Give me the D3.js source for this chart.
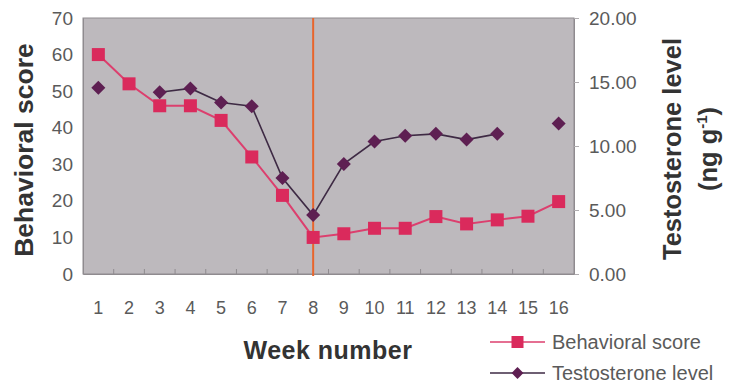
<!DOCTYPE html>
<html>
<head>
<meta charset="utf-8">
<script src="https://cdn.jsdelivr.net/npm/d3@7"></script>
<style>
  html, body { margin: 0; padding: 0; background: #fff; }
  svg { display: block; font-family: "Liberation Sans", Arial, sans-serif; }
</style>
</head>
<body>
<svg id="chart" width="729" height="392"></svg>
<script>
// Weekly observations
const weeks = [1, 2, 3, 4, 5, 6, 7, 8, 9, 10, 11, 12, 13, 14, 15, 16];
const behavioralScore = [60, 52, 46, 46, 42, 32, 21.5, 10, 11, 12.5, 12.5, 15.7, 13.7, 14.8, 15.8, 19.8];
const testosteroneLevel = [14.55, null, 14.2, 14.5, 13.4, 13.1, 7.5, 4.6, 8.6, 10.35, 10.8, 10.95, 10.5, 10.95, null, 11.75];
const leftTicks = [0, 10, 20, 30, 40, 50, 60, 70];
const rightTicks = [0, 5, 10, 15, 20];
const markerWeek = 8;

const svg = d3.select("#chart");
const plot = { left: 83, right: 574, top: 18, bottom: 274 };

const x = d3.scaleBand().domain(weeks).range([plot.left, plot.right]).padding(0);
const yL = d3.scaleLinear().domain([0, 70]).range([plot.bottom, plot.top]);
const yR = d3.scaleLinear().domain([0, 20]).range([plot.bottom, plot.top]);
const cx = w => x(w) + x.bandwidth() / 2;

// Plot background
svg.append("rect")
  .attr("x", plot.left).attr("y", plot.top)
  .attr("width", plot.right - plot.left).attr("height", plot.bottom - plot.top)
  .attr("fill", "#bdb9bd").attr("stroke", "#8f8b8f").attr("stroke-width", 1);

// Left axis
const axL = svg.append("g").attr("transform", `translate(${plot.left},0)`)
  .call(d3.axisLeft(yL).tickValues(leftTicks).tickSize(0).tickPadding(10));
axL.select(".domain").attr("stroke", "#8f8b8f");
axL.selectAll("text").attr("font-size", 19).attr("fill", "#5a5a5a");

// Right axis
const axR = svg.append("g").attr("transform", `translate(${plot.right},0)`)
  .call(d3.axisRight(yR).tickValues(rightTicks).tickSize(5).tickPadding(10).tickFormat(d3.format(".2f")));
axR.select(".domain").attr("stroke", "#8f8b8f");
axR.selectAll("line").attr("stroke", "#b0adb0");
axR.selectAll("text").attr("font-size", 19).attr("fill", "#5a5a5a");

// Bottom axis: labels under each week, ticks on week boundaries
const axB = svg.append("g").attr("transform", `translate(0,${plot.bottom})`)
  .call(d3.axisBottom(x).tickSize(0).tickPadding(27));
axB.select(".domain").attr("stroke", "#8f8b8f");
axB.selectAll("text").attr("font-size", 18).attr("fill", "#5a5a5a");
svg.append("g").selectAll("line")
  .data(weeks.slice(1))
  .join("line")
  .attr("x1", d => x(d)).attr("x2", d => x(d))
  .attr("y1", plot.bottom - 5).attr("y2", plot.bottom)
  .attr("stroke", "#8f8b8f");

// Vertical reference line at week 8
svg.append("line")
  .attr("x1", cx(markerWeek)).attr("x2", cx(markerWeek))
  .attr("y1", plot.top).attr("y2", plot.bottom + 2)
  .attr("stroke", "#e8652c").attr("stroke-width", 2);

// Testosterone series (right axis)
const tData = weeks.map((w, i) => ({ w, v: testosteroneLevel[i] }));
svg.append("path")
  .datum(tData)
  .attr("fill", "none").attr("stroke", "#3e2a44").attr("stroke-width", 1.6)
  .attr("d", d3.line().defined(d => d.v != null).x(d => cx(d.w)).y(d => yR(d.v)));
const diamond = d3.symbol().type(d3.symbolDiamond2).size(125);
svg.append("g").selectAll("path")
  .data(tData.filter(d => d.v != null))
  .join("path")
  .attr("transform", d => `translate(${cx(d.w)},${yR(d.v)})`)
  .attr("d", diamond)
  .attr("fill", "#5e1f52");

// Behavioral score series (left axis)
const bData = weeks.map((w, i) => ({ w, v: behavioralScore[i] }));
svg.append("path")
  .datum(bData)
  .attr("fill", "none").attr("stroke", "#dc3f6e").attr("stroke-width", 2)
  .attr("d", d3.line().x(d => cx(d.w)).y(d => yL(d.v)));
svg.append("g").selectAll("rect")
  .data(bData)
  .join("rect")
  .attr("x", d => cx(d.w) - 6.5).attr("y", d => yL(d.v) - 6.5)
  .attr("width", 13).attr("height", 13)
  .attr("fill", "#da2a5c");

// Axis titles
svg.append("text")
  .attr("transform", `translate(33,150) rotate(-90)`)
  .attr("text-anchor", "middle")
  .attr("font-size", 26.5).attr("font-weight", "bold").attr("fill", "#333")
  .text("Behavioral score");

const rt = svg.append("text")
  .attr("transform", `translate(681,149) rotate(-90)`)
  .attr("text-anchor", "middle")
  .attr("font-size", 25.5).attr("font-weight", "bold").attr("fill", "#333");
rt.append("tspan").attr("x", 0).attr("dy", 0).text("Testosterone level");
const rt2 = rt.append("tspan").attr("x", 0).attr("dy", 36);
rt2.append("tspan").text("(ng g");
rt2.append("tspan").attr("font-size", 15).attr("dy", -10).text("-1");
rt2.append("tspan").attr("dy", 10).text(")");

svg.append("text")
  .attr("x", 328).attr("y", 359)
  .attr("text-anchor", "middle")
  .attr("font-size", 25).attr("font-weight", "bold").attr("fill", "#333")
  .attr("letter-spacing", 0.5)
  .text("Week number");

// Legend
const legend = [
  { label: "Behavioral score", line: "#dc3f6e", mark: "square", fill: "#da2a5c" },
  { label: "Testosterone level", line: "#3e2a44", mark: "diamond", fill: "#5e1f52" }
];
const lg = svg.append("g").selectAll("g")
  .data(legend)
  .join("g")
  .attr("transform", (d, i) => `translate(490,${342 + i * 31})`);
lg.append("line")
  .attr("x1", 0).attr("x2", 55).attr("y1", 0).attr("y2", 0)
  .attr("stroke", d => d.line).attr("stroke-width", 1.6);
lg.filter(d => d.mark === "square").append("rect")
  .attr("x", 21.5).attr("y", -6).attr("width", 12).attr("height", 12)
  .attr("fill", d => d.fill);
lg.filter(d => d.mark === "diamond").append("path")
  .attr("transform", "translate(27.5,0)")
  .attr("d", d3.symbol().type(d3.symbolDiamond2).size(90))
  .attr("fill", d => d.fill);
lg.append("text")
  .attr("x", 62).attr("y", 0).attr("dy", "0.36em")
  .attr("font-size", 20).attr("fill", "#5a5a5a")
  .text(d => d.label);
</script>
</body>
</html>
